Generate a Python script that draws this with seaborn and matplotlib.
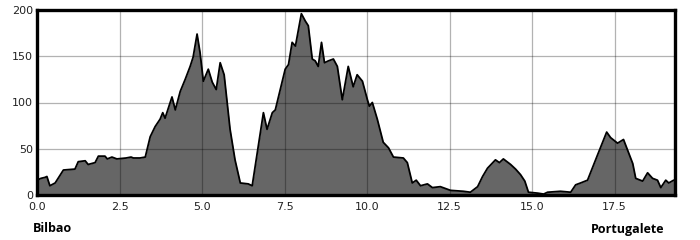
import matplotlib
matplotlib.use("Agg")
import matplotlib.pyplot as plt
import seaborn as sns
import pandas as pd

distance_km = [0.0, 0.12, 0.24, 0.30, 0.39, 0.55, 0.8, 1.15, 1.25, 1.46, 1.55, 1.76, 1.86, 2.06, 2.13,
               2.27, 2.42, 2.70, 2.85, 2.92, 3.12, 3.28, 3.43, 3.58, 3.73, 3.81, 3.88, 4.09, 4.19,
               4.34, 4.49, 4.64, 4.73, 4.85, 4.94, 5.04, 5.19, 5.31, 5.43, 5.55, 5.67, 5.85,
               6.00, 6.16, 6.40, 6.52,
               6.86, 6.97, 7.13, 7.22, 7.52, 7.62, 7.73, 7.83, 8.01, 8.13, 8.22, 8.34, 8.43,
               8.52, 8.62, 8.71, 8.83, 8.98, 9.10, 9.25, 9.43, 9.58, 9.70, 9.86, 10.01, 10.07,
               10.16, 10.31, 10.49, 10.65, 10.80, 11.10, 11.22, 11.37, 11.49, 11.62, 11.83,
               11.98, 12.22, 12.53, 12.92, 13.13, 13.35, 13.50, 13.65, 13.89, 14.01, 14.13,
               14.35, 14.50, 14.65, 14.78, 14.89, 15.17, 15.35,
               15.47, 15.86, 16.17, 16.32, 16.47, 16.68, 16.98, 17.26, 17.38, 17.59, 17.77,
               18.05, 18.14, 18.35, 18.50, 18.65, 18.80, 18.90, 19.05, 19.14, 19.29]
elevation_m = [16, 18, 19, 20, 10, 13, 27, 28, 36, 37, 33, 35, 42, 42, 39,
               41, 39, 40, 41, 40, 40, 41, 63, 74, 82, 89, 83, 106, 92,
               112, 125, 139, 149, 174, 154, 123, 136, 122, 114, 143, 130, 71,
               38, 13, 12, 10,
               89, 71, 89, 92, 136, 141, 165, 161, 196, 188, 183, 147, 145,
               139, 165, 143, 145, 147, 139, 103, 139, 117, 130, 123, 103, 96,
               100, 82, 57, 51, 41, 40, 35, 13, 16, 10, 12,
               8, 9, 5, 4, 3, 9, 20, 29, 38, 35, 39,
               33, 28, 22, 15, 3, 2, 1,
               3, 4, 3, 11, 13, 16, 43, 68, 62, 56, 60,
               34, 18, 15, 24, 18, 16, 8, 16, 13, 16]
x_ticks = [0.0, 2.5, 5.0, 7.5, 10.0, 12.5, 15.0, 17.5]
x_tick_labels = ["0.0", "2.5", "5.0", "7.5", "10.0", "12.5", "15.0", "17.5"]
y_ticks = [0, 50, 100, 150, 200]
start_label = "Bilbao"
end_label = "Portugalete"

df = pd.DataFrame({"km": distance_km, "elev": elevation_m})

sns.set_style("white")
plt.rcParams['font.family'] = ['DejaVu Sans']

fig = plt.figure(figsize=(7, 2.4), dpi=100)
ax = fig.add_axes([37/700, 45/240, 638/700, 185/240])

ax.fill_between(df["km"], df["elev"], 0, color="#666666", zorder=1, linewidth=0)
sns.lineplot(data=df, x="km", y="elev", ax=ax, color="black", linewidth=1.3, zorder=3)

ax.set_xlim(0, 19.33)
ax.set_ylim(0, 200)
ax.set_xticks(x_ticks)
ax.set_xticklabels(x_tick_labels)
ax.set_yticks(y_ticks)
ax.set_xlabel("")
ax.set_ylabel("")
ax.grid(True, color="black", alpha=0.3, linewidth=0.9, zorder=2)
ax.set_axisbelow(False)
for sp in ax.spines.values():
    sp.set_visible(True)
    sp.set_color("black")
    sp.set_linewidth(2.4)
    sp.set_zorder(5)
ax.tick_params(axis="both", length=0, labelsize=8, colors="#222222")
ax.tick_params(axis="x", pad=5)
ax.tick_params(axis="y", pad=3)

fig.text(33/700, 1 - 229/240, start_label, fontfamily="Open Sans", fontweight="bold",
         fontsize=9, va="center", ha="left", color="black")
fig.text(664/700, 1 - 229/240, end_label, fontfamily="Open Sans", fontweight="bold",
         fontsize=9, va="center", ha="right", color="black")

fig.savefig("out.png", dpi=100, facecolor="white")
